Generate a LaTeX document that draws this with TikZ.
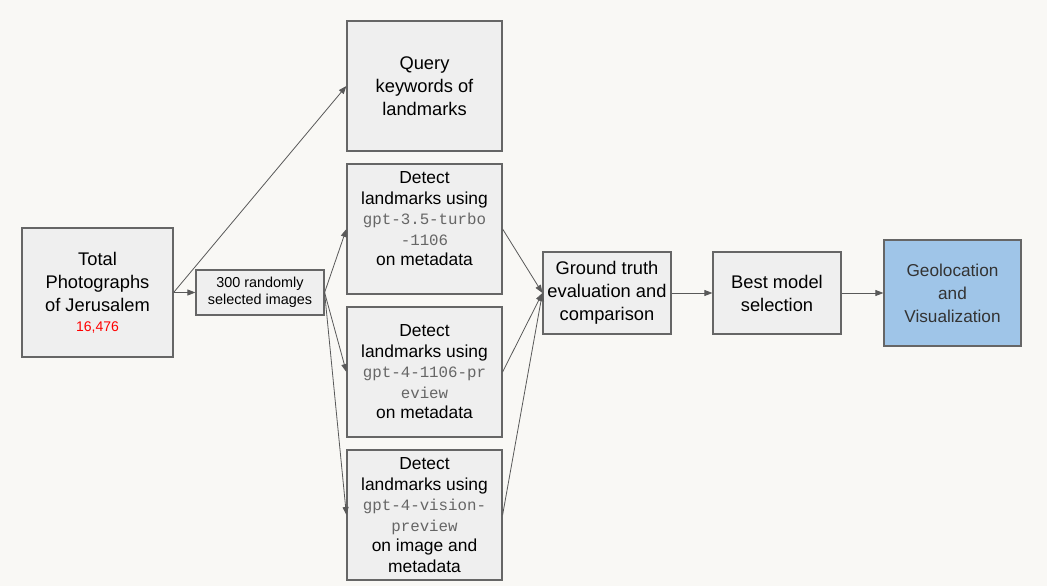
\documentclass[tikz,border=0pt]{standalone}
\usepackage{fontspec}
\setmainfont{Liberation Sans}
\newfontfamily\codefont{Liberation Mono}
\usetikzlibrary{arrows.meta}
\definecolor{bgpaper}{HTML}{F9F8F5}
\definecolor{boxgray}{HTML}{EFEFEF}
\definecolor{boxline}{HTML}{666666}
\definecolor{geoblue}{HTML}{9FC5E8}
\definecolor{arrowgray}{HTML}{595959}
\definecolor{codegray}{HTML}{666666}
\definecolor{geotext}{HTML}{333333}
\tikzset{
  stage/.style={draw=boxline, fill=boxgray, line width=1.2pt, inner sep=0pt, align=center,
    font=\fontsize{18.3}{23}\selectfont},
  detect/.style={stage, minimum width=155pt, minimum height=130pt,
    font=\fontsize{17.4}{20.5}\selectfont},
  flow/.style={draw=arrowgray, line width=0.8pt, -{Triangle[length=8pt,width=6pt]}},
}
\newcommand{\modelname}[1]{{\codefont\color{codegray}\fontsize{15.8}{20.5}\selectfont #1}}

\begin{document}
\begin{tikzpicture}[x=1pt,y=-1pt]
\fill[bgpaper] (0,0) rectangle (1047,586);
  \node[stage, minimum width=151pt, minimum height=129pt] (total) at (97.5,292.5)
    {Total\\Photographs\\of Jerusalem\\[-3pt]{\fontsize{14}{17}\selectfont\color{red}16,476}};
  \node[stage, minimum width=128pt, minimum height=45pt, font=\fontsize{14.4}{17}\selectfont] (sample) at (260,292.5)
    {300 randomly\\selected images};
  \node[stage, minimum width=155pt, minimum height=130pt] (query) at (424.5,86)
    {Query\\keywords of\\landmarks};
  \node[detect] (gpt35) at (424.5,229)
    {Detect\\landmarks using\\\modelname{gpt-3.5-turbo}\\\modelname{-1106}\\on metadata\\\mbox{}};
  \node[detect] (gpt4) at (424.5,372)
    {Detect\\landmarks using\\\modelname{gpt-4-1106-pr}\\\modelname{eview}\\on metadata};
  \node[detect] (vision) at (424.5,515)
    {Detect\\landmarks using\\\modelname{gpt-4-vision-}\\\modelname{preview}\\on image and\\metadata};
  \node[stage, minimum width=128pt, minimum height=82pt] (truth) at (607,293)
    {Ground truth\\evaluation and\\comparison};
  \node[stage, minimum width=128pt, minimum height=82pt] (best) at (777,293)
    {Best model\\selection};
  \node[stage, fill=geoblue, text=geotext, minimum width=137pt, minimum height=106pt,
    font=\fontsize{17.2}{23}\selectfont] (geo) at (952.5,293)
    {Geolocation\\and\\Visualization};
  % connectors
  \draw[flow] (total.east) -- (sample.west);
  \draw[flow] (total.east) -- (query.west);
  \foreach \model in {gpt35,gpt4,vision} {
    \draw[flow] (sample.east) -- (\model.west);
    \draw[flow] (\model.east) -- (truth.west);
  }
  \draw[flow] (truth) -- (best);
  \draw[flow] (best) -- (geo);
\end{tikzpicture}
\end{document}
